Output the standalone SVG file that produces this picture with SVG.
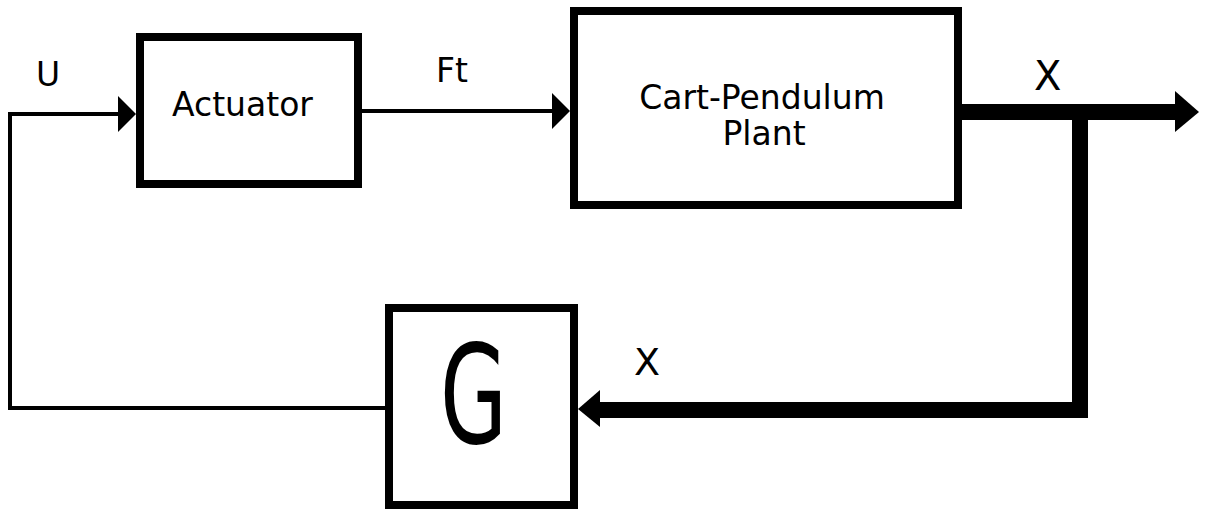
<svg xmlns="http://www.w3.org/2000/svg" width="1209" height="512" viewBox="0 0 1209 512">
<style>
.box{fill:#fff;stroke:#000;stroke-width:8}
.lbl{font-family:"DejaVu Sans",sans-serif;font-size:33px;fill:#000}
.thin{fill:none;stroke:#000;stroke-width:4;stroke-linejoin:miter}
.thick{fill:none;stroke:#000;stroke-width:16;stroke-linejoin:miter}
</style>
<rect width="1209" height="512" fill="#fff"/>
<g id="connectors">
  <path class="thin" d="M385,408 H10 V114 H120"/>
  <polygon points="118,96 136,114 118,132" fill="#000"/>
  <path class="thin" d="M362,111 H554"/>
  <polygon points="552,93 570,111 552,129" fill="#000"/>
  <path class="thick" d="M962,112 H1178"/>
  <polygon points="1175,91 1199,112 1175,132" fill="#000"/>
  <path class="thick" d="M1080,112 V410 H598"/>
  <polygon points="600,390 578,409 600,427" fill="#000"/>
  <text class="lbl" x="36" y="86">U</text>
  <text class="lbl" x="436" y="82">Ft</text>
  <text class="lbl" x="1034" y="90" style="font-size:40px">X</text>
  <text class="lbl" x="634" y="375" style="font-size:38px">X</text>
</g>
<g id="actuator">
  <rect class="box" x="140" y="37" width="218" height="147"/>
  <text class="lbl" x="172" y="116">Actuator</text>
</g>
<g id="plant">
  <rect class="box" x="574" y="11" width="384" height="194"/>
  <text class="lbl" x="762" y="109" text-anchor="middle">Cart-Pendulum</text>
  <text class="lbl" x="764" y="145" text-anchor="middle">Plant</text>
</g>
<g id="gain">
  <rect class="box" x="389" y="308" width="185" height="197"/>
  <text x="440" y="443" textLength="67" lengthAdjust="spacingAndGlyphs" style="font-family:'DejaVu Sans',sans-serif;font-size:138px">G</text>
</g>
</svg>
